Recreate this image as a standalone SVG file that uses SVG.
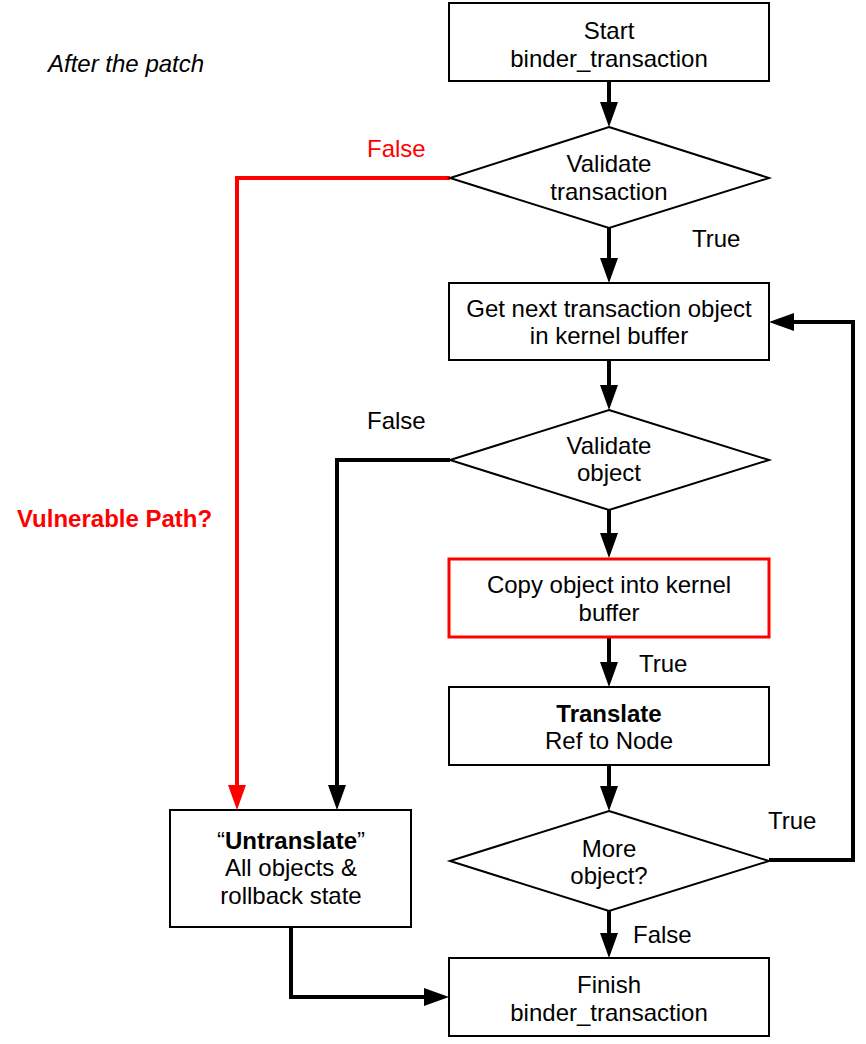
<svg xmlns="http://www.w3.org/2000/svg" width="866" height="1044" viewBox="0 0 866 1044">
  <defs>
    <style>
      .box { fill: #ffffff; stroke: #000000; stroke-width: 2; }
      .box-red { fill: #ffffff; stroke: #ff0000; stroke-width: 3; }
      .t { font-family: "Liberation Sans", Arial, sans-serif; font-size: 24px; fill: #000000; text-anchor: middle; }
      .lbl { font-family: "Liberation Sans", Arial, sans-serif; font-size: 24px; fill: #000000; }
      .red { fill: #ff0000; }
      .b { font-weight: bold; }
      .wire { fill: none; stroke: #000000; stroke-width: 4; stroke-linejoin: miter; }
      .wire-red { fill: none; stroke: #ff0000; stroke-width: 4; stroke-linejoin: miter; }
    </style>
    <marker id="arrow" markerUnits="userSpaceOnUse" markerWidth="26" markerHeight="20" refX="0" refY="9" orient="auto">
      <path d="M0,0 L25,9 L0,18 Z" fill="#000000"/>
    </marker>
    <marker id="arrow-red" markerUnits="userSpaceOnUse" markerWidth="26" markerHeight="20" refX="0" refY="9" orient="auto">
      <path d="M0,0 L25,9 L0,18 Z" fill="#ff0000"/>
    </marker>
  </defs>

  <rect width="866" height="1044" fill="#ffffff"/>

  <!-- free-standing labels -->
  <text class="lbl" x="48" y="72" font-style="italic">After the patch</text>
  <text class="lbl b red" x="17" y="527">Vulnerable Path?</text>

  <!-- connectors -->
  <g id="connectors">
    <path class="wire" d="M609,81 V102" marker-end="url(#arrow)"/>
    <path class="wire" d="M609,228 V258" marker-end="url(#arrow)"/>
    <path class="wire" d="M609,360 V385" marker-end="url(#arrow)"/>
    <path class="wire" d="M609,510 V533" marker-end="url(#arrow)"/>
    <path class="wire" d="M609,638 V662" marker-end="url(#arrow)"/>
    <path class="wire" d="M609,765 V786" marker-end="url(#arrow)"/>
    <path class="wire" d="M609,911 V933" marker-end="url(#arrow)"/>
    <path class="wire" d="M769,860 H853 V322 H794" marker-end="url(#arrow)"/>
    <path class="wire-red" d="M450,178 H237 V785" marker-end="url(#arrow-red)"/>
    <path class="wire" d="M450,460 H337 V785" marker-end="url(#arrow)"/>
    <path class="wire" d="M291,927 V997 H424" marker-end="url(#arrow)"/>

    <text class="lbl red" x="367" y="157">False</text>
    <text class="lbl" x="692" y="247">True</text>
    <text class="lbl" x="367" y="429">False</text>
    <text class="lbl" x="639" y="672">True</text>
    <text class="lbl" x="768" y="829">True</text>
    <text class="lbl" x="633" y="943">False</text>
  </g>

  <g id="start">
    <rect class="box" x="449" y="3" width="320" height="78"/>
    <text class="t" x="609" y="39">Start</text>
    <text class="t" x="609" y="67">binder_transaction</text>
  </g>

  <g id="validate-transaction">
    <polygon class="box" points="609,127 769,178 609,228 450,178"/>
    <text class="t" x="609" y="172">Validate</text>
    <text class="t" x="609" y="200">transaction</text>
  </g>

  <g id="get-next-object">
    <rect class="box" x="449" y="283" width="320" height="77"/>
    <text class="t" x="609" y="317">Get next transaction object</text>
    <text class="t" x="609" y="344">in kernel buffer</text>
  </g>

  <g id="validate-object">
    <polygon class="box" points="609,410 769,460 609,510 450,460"/>
    <text class="t" x="609" y="454">Validate</text>
    <text class="t" x="609" y="481">object</text>
  </g>

  <g id="copy-object">
    <rect class="box-red" x="449" y="559" width="320" height="78"/>
    <text class="t" x="609" y="593">Copy object into kernel</text>
    <text class="t" x="609" y="621">buffer</text>
  </g>

  <g id="translate">
    <rect class="box" x="449" y="687" width="320" height="78"/>
    <text class="t b" x="609" y="722">Translate</text>
    <text class="t" x="609" y="749">Ref to Node</text>
  </g>

  <g id="more-objects">
    <polygon class="box" points="609,811 769,861 609,911 450,861"/>
    <text class="t" x="609" y="857">More</text>
    <text class="t" x="609" y="884">object?</text>
  </g>

  <g id="untranslate">
    <rect class="box" x="170" y="810" width="241" height="117"/>
    <text class="t" x="291" y="849">“<tspan class="b">Untranslate</tspan>”</text>
    <text class="t" x="291" y="876">All objects &amp;</text>
    <text class="t" x="291" y="904">rollback state</text>
  </g>

  <g id="finish">
    <rect class="box" x="449" y="958" width="320" height="78"/>
    <text class="t" x="609" y="993">Finish</text>
    <text class="t" x="609" y="1021">binder_transaction</text>
  </g>
</svg>
